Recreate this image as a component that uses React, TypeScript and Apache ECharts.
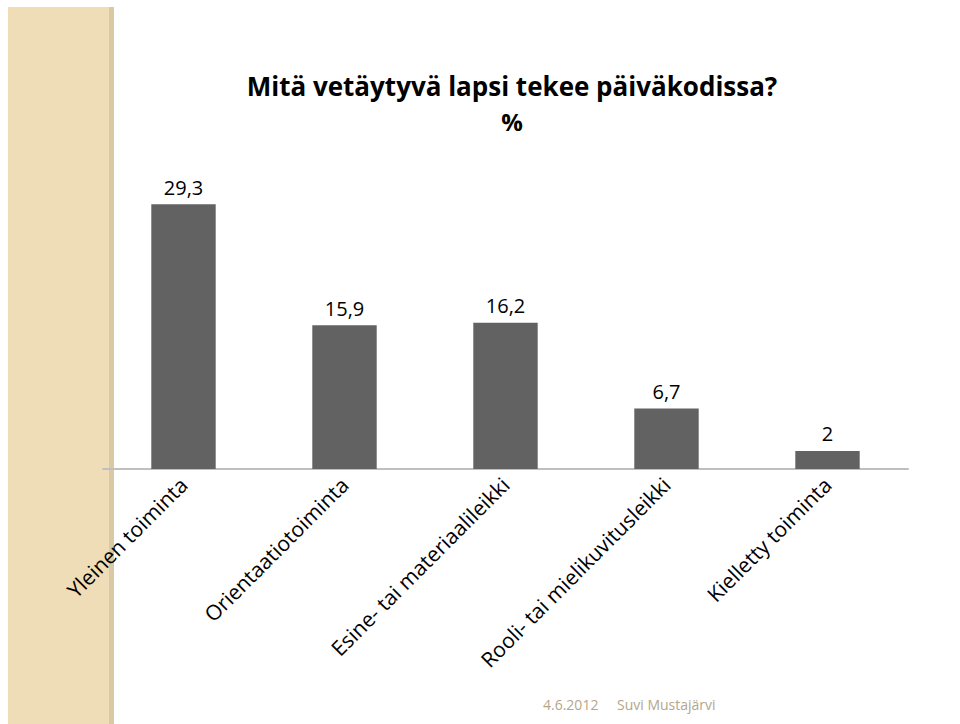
import React, { useEffect, useRef } from "react";
import * as echarts from "echarts";

const categories = [
  "Yleinen toiminta",
  "Orientaatiotoiminta",
  "Esine- tai materiaalileikki",
  "Rooli- tai mielikuvitusleikki",
  "Kielletty toiminta",
];
const values = [29.3, 15.9, 16.2, 6.7, 2];
const titleLine1 = "Mitä vetäytyvä lapsi tekee päiväkodissa?";
const titleLine2 = "%";
const footerDate = "4.6.2012";
const footerAuthor = "Suvi Mustajärvi";

const FONT = "'Open Sans', Lato, sans-serif";

export default function App() {
  const ref = useRef<HTMLDivElement>(null);
  useEffect(() => {
    if (!ref.current) return;
    const chart = echarts.init(ref.current, undefined, { renderer: "svg" });
    chart.setOption({
      animation: false,
      backgroundColor: "#ffffff",
      graphic: [
        { type: "rect", shape: { x: 8, y: 7, width: 102, height: 717 }, style: { fill: "#EEDDB6" }, z: -10 },
        { type: "rect", shape: { x: 109, y: 7, width: 5, height: 717 }, style: { fill: "#D9C9A4" }, z: -10 },
        {
          type: "text",
          left: 543,
          top: 697,
          style: { text: footerDate, fill: "#B5A68A", font: `14px ${FONT}` },
        },
        {
          type: "text",
          left: 617,
          top: 697,
          style: { text: footerAuthor, fill: "#B5A68A", font: `14px ${FONT}` },
        },
      ],
      title: [
        {
          text: titleLine1,
          left: 507,
          top: 68,
          textAlign: "center",
          textStyle: { fontFamily: FONT, fontSize: 26, fontWeight: "bold", color: "#000" },
        },
        {
          text: titleLine2,
          left: 507,
          top: 104,
          textAlign: "center",
          textStyle: { fontFamily: FONT, fontSize: 24, fontWeight: "bold", color: "#000" },
        },
      ],
      grid: { left: 103, right: 52, top: 198, bottom: 255, containLabel: false },
      xAxis: {
        type: "category",
        data: categories,
        axisLine: { lineStyle: { color: "#BFBFBF", width: 2 } },
        axisTick: { show: false },
        axisLabel: {
          rotate: 45,
          interval: 0,
          color: "#000",
          fontFamily: FONT,
          fontSize: 21,
          margin: 12,
        },
      },
      yAxis: {
        type: "value",
        min: 0,
        max: 30,
        show: false,
        splitLine: { show: false },
      },
      series: [
        {
          type: "bar",
          data: values,
          barWidth: "40%",
          itemStyle: { color: "#626262" },
          label: {
            show: true,
            position: "top",
            distance: 7,
            color: "#000",
            fontFamily: FONT,
            fontSize: 20,
            formatter: (p: any) => String(p.value).replace(".", ","),
          },
        },
      ],
    });
    return () => chart.dispose();
  }, []);
  return (
    <div
      ref={ref}
      style={{ position: "fixed", left: 0, top: 0, width: 960, height: 724 }}
    />
  );
}
